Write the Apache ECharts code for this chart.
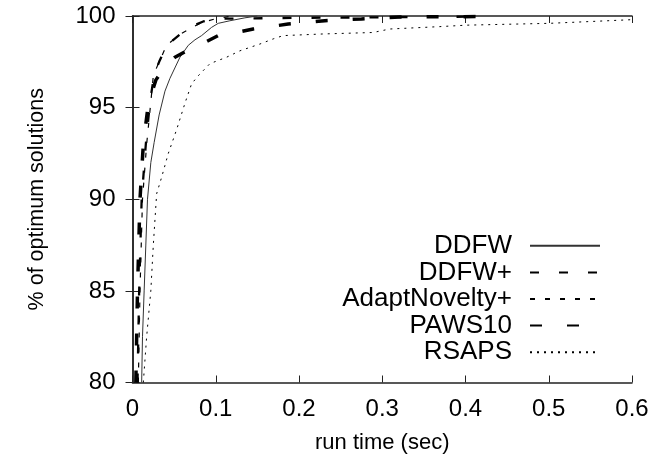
<!DOCTYPE html>
<html>
<head>
<meta charset="utf-8">
<script src="https://cdn.jsdelivr.net/npm/echarts@6/dist/echarts.min.js"></script>
<style>
html,body{margin:0;padding:0;background:#fff;}
#c{width:654px;height:466px;}
</style>
</head>
<body>
<div id="c"></div>
<script>
var seriesNames = ['DDFW', 'DDFW+', 'AdaptNovelty+', 'PAWS10', 'RSAPS'];
var xTicks = [0, 0.1, 0.2, 0.3, 0.4, 0.5, 0.6];
var yTicks = [80, 85, 90, 95, 100];

var ddfw = [[0.011,80],[0.012,82.5],[0.014,85],[0.016,87.5],[0.018,90],[0.022,92],[0.026,93.1],[0.032,94.6],[0.039,95.9],[0.045,96.6],[0.057,97.75],[0.067,98.4],[0.075,98.7],[0.083,98.93],[0.095,99.38],[0.103,99.6],[0.117,99.74],[0.135,99.9],[0.15,100]];
var ddfwPlus = [[0.006,80],[0.008,85],[0.011,90],[0.016,93],[0.021,95.3],[0.026,96.8],[0.032,97.5],[0.041,98.4],[0.057,99.0],[0.072,99.45],[0.085,99.7],[0.1,99.85],[0.2,99.9],[0.3,99.93],[0.42,99.97]];
var adaptNovelty = [[0.007,80],[0.009,85],[0.012,90],[0.017,93],[0.022,95.3],[0.025,96.74],[0.031,97.4],[0.041,98.4],[0.057,99.0],[0.081,99.6],[0.099,99.84],[0.12,100]];
var paws10 = [[0.004,80],[0.006,85],[0.009,90],[0.013,93],[0.019,95.2],[0.028,96.5],[0.04,97.3],[0.051,97.75],[0.065,98.1],[0.083,98.47],[0.103,98.93],[0.125,99.1],[0.145,99.29],[0.187,99.56],[0.231,99.74],[0.275,99.84],[0.321,99.95],[0.42,99.97]];
var rsaps = [[0.013,80],[0.017,82.5],[0.022,85],[0.025,87.5],[0.029,90.3],[0.035,91.2],[0.043,92.5],[0.053,93.8],[0.063,95.24],[0.071,96.3],[0.079,96.74],[0.093,97.4],[0.113,97.75],[0.129,98.1],[0.153,98.47],[0.169,98.75],[0.181,98.93],[0.229,99.02],[0.289,99.1],[0.309,99.29],[0.369,99.42],[0.401,99.5],[0.501,99.6],[0.6,99.8]];

var FONT = 'Liberation Sans';
var AX = '#222';

var chart = echarts.init(document.getElementById('c'), null, {renderer: 'canvas'});

function mk(name, data, type, width, color) {
  return {
    name: name, type: 'line', data: data, symbol: 'none', showSymbol: false,
    xAxisIndex: 0, yAxisIndex: 0, animation: false,
    lineStyle: {type: type, width: width, color: color},
    itemStyle: {color: color}
  };
}

chart.setOption({
  animation: false,
  backgroundColor: '#fff',
  grid: {left: 132.5, right: 22, top: 16, bottom: 83.5, show: false},
  legend: {
    orient: 'vertical', align: 'right', right: 53, top: 232.5, padding: 0,
    itemWidth: 70, itemHeight: 10, itemGap: 0,
    itemStyle: {opacity: 0},
    textStyle: {fontFamily: FONT, fontSize: 26, color: '#000', lineHeight: 26.6, padding: [0, 13, 0, 0]},
    data: seriesNames
  },
  xAxis: [{
    type: 'value', min: xTicks[0], max: xTicks[xTicks.length-1], interval: 0.1,
    name: 'run time (sec)', nameLocation: 'middle', nameGap: 49,
    nameTextStyle: {fontFamily: FONT, fontSize: 22, color: '#000'},
    axisLine: {show: true, lineStyle: {color: AX, width: 1.5}},
    axisTick: {show: true, inside: true, length: 7, lineStyle: {color: AX}},
    axisLabel: {fontFamily: FONT, fontSize: 24, color: '#000', margin: 15,
      formatter: function(v){ return String(Math.round(v*10)/10); }},
    splitLine: {show: false}
  }, {
    type: 'value', position: 'top', min: 0, max: 0.6, interval: 0.1,
    axisLine: {show: true, lineStyle: {color: AX, width: 1.5}},
    axisTick: {show: true, inside: true, length: 7, lineStyle: {color: AX}},
    axisLabel: {show: false}, splitLine: {show: false}
  }],
  yAxis: [{
    type: 'value', min: yTicks[0], max: yTicks[yTicks.length-1], interval: 5,
    name: '% of optimum solutions', nameLocation: 'middle', nameGap: 84,
    nameTextStyle: {fontFamily: FONT, fontSize: 21.5, color: '#000'},
    axisLine: {show: true, lineStyle: {color: AX, width: 1.5}},
    axisTick: {show: true, inside: true, length: 7, lineStyle: {color: AX}},
    axisLabel: {fontFamily: FONT, fontSize: 24, color: '#000', margin: 17},
    splitLine: {show: false}
  }, {
    type: 'value', position: 'right', min: 80, max: 100, interval: 5,
    axisLine: {show: true, lineStyle: {color: AX, width: 1.5}},
    axisTick: {show: true, inside: true, length: 7, lineStyle: {color: AX}},
    axisLabel: {show: false}, splitLine: {show: false}
  }],
  series: [
    mk(seriesNames[0], ddfw, 'solid', 1, '#333'),
    mk(seriesNames[1], ddfwPlus, [9, 20], 2.3, '#000'),
    mk(seriesNames[2], adaptNovelty, [5, 10], 1.2, '#000'),
    mk(seriesNames[3], paws10, [12, 25], 3.5, '#000'),
    mk(seriesNames[4], rsaps, [2, 5], 1, '#000')
  ]
});
</script>
</body>
</html>
